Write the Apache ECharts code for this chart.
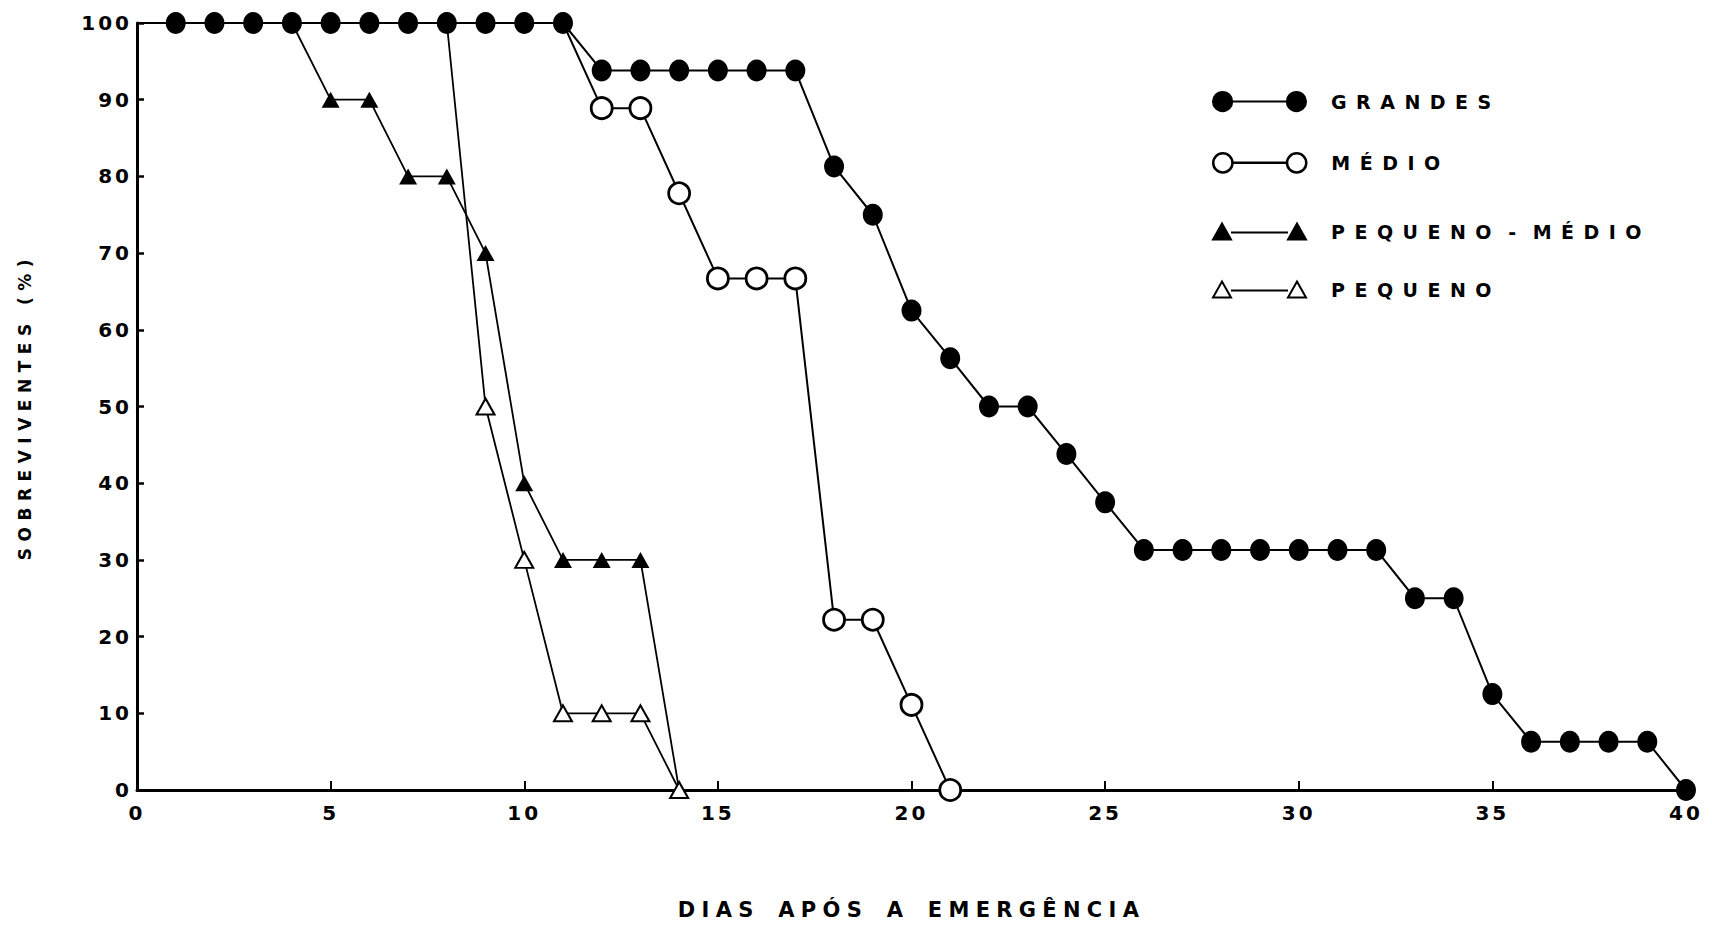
<!DOCTYPE html>
<html>
<head>
<meta charset="utf-8">
<script src="https://cdn.jsdelivr.net/npm/echarts@6/dist/echarts.min.js"></script>
<style>
  html, body { margin: 0; padding: 0; background: #fff; }
  #chart { width: 1712px; height: 928px; }
  /* spaced lettering, picked per font size */
  #chart text { letter-spacing: 3px; }
  #chart text[style*="19px"] { letter-spacing: 9.5px; word-spacing: -9px; }
  #chart text[style*="21px"] { letter-spacing: 6.3px; word-spacing: 5px; }
  #chart text[style*="17px"] { letter-spacing: 6.5px; }
</style>
</head>
<body>
<div id="chart"></div>
<script>
// Sobrevivência (%) por dia após a emergência, por classe de tamanho
const grandesDias = [0, 1, 2, 3, 4, 5, 6, 7, 8, 9, 10, 11, 12, 13, 14, 15, 16, 17, 18, 19, 20,
  21, 22, 23, 24, 25, 26, 27, 28, 29, 30, 31, 32, 33, 34, 35, 36, 37, 38, 39, 40];
const grandesVal = [100, 100, 100, 100, 100, 100, 100, 100, 100, 100, 100, 100,
  93.8, 93.8, 93.8, 93.8, 93.8, 93.8,
  81.3, 75, 62.5, 56.3, 50, 50, 43.8, 37.5,
  31.3, 31.3, 31.3, 31.3, 31.3, 31.3, 31.3,
  25, 25, 12.5, 6.3, 6.3, 6.3, 6.3, 0];

const medioDias = [11, 12, 13, 14, 15, 16, 17, 18, 19, 20, 21];
const medioVal = [100, 88.9, 88.9, 77.8, 66.7, 66.7, 66.7, 22.2, 22.2, 11.1, 0];

const pequenoMedioDias = [4, 5, 6, 7, 8, 9, 10, 11, 12, 13, 14];
const pequenoMedioVal = [100, 90, 90, 80, 80, 70, 40, 30, 30, 30, 0];

const pequenoDias = [8, 9, 10, 11, 12, 13, 14];
const pequenoVal = [100, 50, 30, 10, 10, 10, 0];

const nomes = ['GRANDES', 'MÉDIO', 'PEQUENO - MÉDIO', 'PEQUENO'];

// first point of each curve starts on an existing point, so no marker there
function pontos(dias, vals) {
  return dias.map((d, i) => i === 0 ? { value: [d, vals[i]], symbol: 'none' } : [d, vals[i]]);
}

const FONT = '"DejaVu Sans", Verdana, sans-serif';
const iconCirculos = 'path://M0.5,10A9.5,9.5,0,1,1,19.5,10A9.5,9.5,0,1,1,0.5,10ZM19.5,10L73.5,10M73.5,10A9.5,9.5,0,1,1,92.5,10A9.5,9.5,0,1,1,73.5,10Z';
const iconTriangulos = 'path://M0,17L9,1L18,17ZM18,10L75,10M75,17L84,1L93,17Z';

function legenda(nome, top, icon, h, fill, bw) {
  return {
    show: true,
    left: 1212,
    top: top,
    padding: 0,
    orient: 'vertical',
    selectedMode: false,
    itemWidth: 93,
    itemHeight: h,
    data: [{
      name: nome,
      icon: icon,
      itemStyle: { color: fill, borderColor: '#000', borderWidth: bw }
    }],
    textStyle: {
      color: '#000', fontSize: 19, fontWeight: 'bold', fontFamily: FONT,
      padding: [0, 0, 0, 20]
    }
  };
}

const chart = echarts.init(document.getElementById('chart'), null, { renderer: 'svg' });

chart.setOption({
  animation: false,
  backgroundColor: '#fff',
  grid: { left: 137, right: 26, top: 23, bottom: 138 },
  legend: [
    legenda(nomes[0], 91, iconCirculos, 20, '#000', 2),
    legenda(nomes[1], 152, iconCirculos, 20, '#fff', 2.5),
    legenda(nomes[2], 222, iconTriangulos, 18, '#000', 2),
    legenda(nomes[3], 280, iconTriangulos, 18, '#fff', 2)
  ],
  xAxis: {
    type: 'value',
    min: 0, max: 40, interval: 5,
    name: 'DIAS APÓS A EMERGÊNCIA',
    nameLocation: 'middle',
    nameGap: 109,
    nameTextStyle: { color: '#000', fontSize: 21, fontWeight: 'bold', fontFamily: FONT },
    axisLine: { show: true, lineStyle: { color: '#000', width: 3 } },
    axisTick: { show: true, inside: true, length: 9, lineStyle: { color: '#000', width: 2 } },
    axisLabel: { color: '#000', fontSize: 20, fontWeight: 'bold', fontFamily: FONT, margin: 13 },
    splitLine: { show: false }
  },
  yAxis: {
    type: 'value',
    min: 0, max: 100, interval: 10,
    name: 'SOBREVIVENTES (%)',
    nameLocation: 'middle',
    nameGap: 104,
    nameTextStyle: { color: '#000', fontSize: 17, fontWeight: 'bold', fontFamily: FONT },
    axisLine: { show: true, lineStyle: { color: '#000', width: 3 } },
    axisTick: { show: true, inside: true, length: 7, lineStyle: { color: '#000', width: 2.5 } },
    axisLabel: { color: '#000', fontSize: 20, fontWeight: 'bold', fontFamily: FONT, margin: 5 },
    splitLine: { show: false }
  },
  series: [
    {
      name: nomes[0], type: 'line', z: 6,
      data: pontos(grandesDias, grandesVal),
      symbol: 'circle', symbolSize: [20, 22],
      itemStyle: { color: '#000' },
      lineStyle: { color: '#000', width: 2 }
    },
    {
      name: nomes[1], type: 'line', z: 4,
      data: pontos(medioDias, medioVal),
      symbol: 'circle', symbolSize: 21,
      itemStyle: { color: '#fff', borderColor: '#000', borderWidth: 2.8 },
      lineStyle: { color: '#000', width: 2 }
    },
    {
      name: nomes[2], type: 'line', z: 3,
      data: pontos(pequenoMedioDias, pequenoMedioVal),
      symbol: 'triangle', symbolSize: [18, 16],
      itemStyle: { color: '#000' },
      lineStyle: { color: '#000', width: 1.8 }
    },
    {
      name: nomes[3], type: 'line', z: 3,
      data: pontos(pequenoDias, pequenoVal),
      symbol: 'triangle', symbolSize: [18, 16],
      itemStyle: { color: '#fff', borderColor: '#000', borderWidth: 2 },
      lineStyle: { color: '#000', width: 1.8 }
    }
  ]
});
</script>
</body>
</html>
